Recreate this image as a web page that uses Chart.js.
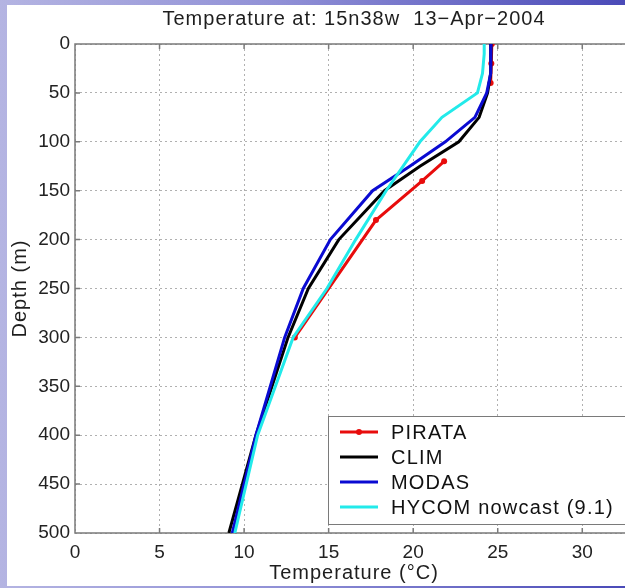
<!DOCTYPE html>
<html>
<head>
<meta charset="utf-8">
<script src="https://cdn.jsdelivr.net/npm/chart.js@4"></script>
<style>
  html, body { margin: 0; padding: 0; width: 625px; height: 588px; overflow: hidden; }
  body { background: linear-gradient(to right, #b4b4e2 0%, #9090d6 45%, #4a4ab8 100%); position: relative; }
  #panel { position: absolute; left: 7px; top: 5px; width: 640px; height: 581px; background: #fff; }
  #myChart { position: absolute; left: 0; top: 0; }
</style>
</head>
<body>
<div id="panel"></div>
<canvas id="myChart" width="640" height="588"></canvas>
<script>
// depth profiles, temperature in degC vs depth in m
let pirataDepth = [0, 20, 40, 60, 120, 140, 180, 300];
let pirataTemp = [24.65, 24.62, 24.58, null, 21.83, 20.53, 17.8, 13.0];

let climDepth = [0, 10, 20, 30, 50, 75, 100, 125, 150, 200, 250, 300, 400, 500];
let climTemp = [24.6, 24.6, 24.6, 24.55, 24.4, 23.9, 22.7, 20.4, 18.3, 15.6, 13.8, 12.6, 10.7, 9.1];
let modasTemp = [24.6, 24.6, 24.6, 24.55, 24.35, 23.65, 21.9, 19.8, 17.6, 15.1, 13.5, 12.4, 10.7, 9.3];

let hycomDepth = [0, 10, 30, 50, 75, 100, 150, 200, 250, 300, 400, 500];
let hycomTemp = [24.2, 24.2, 24.1, 23.8, 21.7, 20.4, 18.4, 16.6, 14.9, 12.9, 10.8, 9.45];

let xTicks = [0, 5, 10, 15, 20, 25, 30];
let yTicks = [0, 50, 100, 150, 200, 250, 300, 350, 400, 450, 500];

let font = '"Liberation Sans", Arial, sans-serif';

function profile(depths, temps) {
    return depths.map((d, i) => temps[i] == null ? {x: null, y: null} : {x: temps[i], y: d});
}

// frame, inner ticks, titles and legend drawn on top of the chart area
let decor = {
    id: 'decor',
    beforeDatasetsDraw(chart) {
        let ctx = chart.ctx;
        let a = chart.chartArea;
        let xs = chart.scales.x, ys = chart.scales.y;
        ctx.save();
        ctx.strokeStyle = '#7a7a7a';
        ctx.lineWidth = 1.5;
        ctx.beginPath();
        ctx.moveTo(a.right, a.top); ctx.lineTo(a.left, a.top);
        ctx.lineTo(a.left, a.bottom); ctx.lineTo(a.right, a.bottom);
        xTicks.forEach(v => {
            let px = xs.getPixelForValue(v);
            ctx.moveTo(px, a.bottom); ctx.lineTo(px, a.bottom - 5);
            ctx.moveTo(px, a.top); ctx.lineTo(px, a.top + 5);
        });
        yTicks.forEach(v => {
            let py = ys.getPixelForValue(v);
            ctx.moveTo(a.left, py); ctx.lineTo(a.left + 5, py);
        });
        ctx.stroke();
        ctx.restore();
    },
    afterDraw(chart) {
        let ctx = chart.ctx;
        let a = chart.chartArea;
        let cx = (a.left + a.right) / 2;
        ctx.save();
        ctx.fillStyle = '#1e1e1e';
        ctx.textAlign = 'center';
        ctx.textBaseline = 'middle';
        ctx.letterSpacing = '1px';
        ctx.font = '20px ' + font;
        ctx.fillText('Temperature at: 15n38w  13\u2212Apr\u22122004', cx, 19);
        ctx.fillText('Temperature (\u00b0C)', cx, 573);
        ctx.save();
        ctx.translate(20, (a.top + a.bottom) / 2);
        ctx.rotate(-Math.PI / 2);
        ctx.fillText('Depth (m)', 0, 0);
        ctx.restore();

        // legend box
        let bx = 328, by = 416, bh = 108;
        ctx.fillStyle = '#fff';
        ctx.fillRect(bx, by, a.right - bx + 20, bh);
        ctx.strokeStyle = '#7a7a7a';
        ctx.lineWidth = 1;
        ctx.strokeRect(bx + 0.5, by + 0.5, a.right - bx + 20, bh);
        let rows = [432, 457, 482, 507];
        ctx.textAlign = 'left';
        ctx.letterSpacing = '1.2px';
        chart.data.datasets.forEach((ds, i) => {
            let y = rows[i];
            ctx.strokeStyle = ds.borderColor;
            ctx.lineWidth = 3;
            ctx.beginPath();
            ctx.moveTo(340, y); ctx.lineTo(378, y);
            ctx.stroke();
            if (ds.pointRadius > 0) {
                ctx.fillStyle = ds.borderColor;
                ctx.beginPath();
                ctx.arc(359, y, 3, 0, Math.PI * 2);
                ctx.fill();
            }
            ctx.fillStyle = '#111';
            ctx.fillText(ds.label, 391, y + 1);
        });
        ctx.restore();
    }
};

let myChart = document.getElementById('myChart').getContext('2d');

let chart = new Chart(myChart, {
    type: 'scatter',
    data: {
        datasets: [
            {
                label: 'PIRATA',
                data: profile(pirataDepth, pirataTemp),
                showLine: true,
                borderColor: '#e80c0c',
                backgroundColor: '#e80c0c',
                borderWidth: 3,
                pointRadius: 3,
                pointBorderWidth: 0,
                order: 4
            },
            {
                label: 'CLIM',
                data: profile(climDepth, climTemp),
                showLine: true,
                borderColor: '#000000',
                borderWidth: 3,
                pointRadius: 0,
                order: 3
            },
            {
                label: 'MODAS',
                data: profile(climDepth, modasTemp),
                showLine: true,
                borderColor: '#0a0ad2',
                borderWidth: 3,
                pointRadius: 0,
                order: 2
            },
            {
                label: 'HYCOM nowcast (9.1)',
                data: profile(hycomDepth, hycomTemp),
                showLine: true,
                borderColor: '#22eaea',
                borderWidth: 3,
                pointRadius: 0,
                order: 1
            }
        ]
    },
    options: {
        responsive: false,
        animation: false,
        layout: {
            padding: {left: 0, top: 44, right: 7, bottom: 0}
        },
        plugins: {
            legend: {display: false},
            title: {display: false},
            tooltip: {enabled: false}
        },
        scales: {
            x: {
                type: 'linear',
                min: 0,
                max: 33,
                afterFit: s => { s.height = 55; },
                afterBuildTicks: s => { s.ticks = xTicks.map(v => ({value: v})); },
                ticks: {
                    color: '#222',
                    font: {family: font, size: 19},
                    padding: 8,
                    maxRotation: 0
                },
                grid: {color: '#b0b0b0', lineWidth: 1, drawTicks: false},
                border: {display: false, dash: [2, 3]}
            },
            y: {
                type: 'linear',
                reverse: true,
                min: 0,
                max: 500,
                afterFit: s => { s.width = 75; },
                afterBuildTicks: s => { s.ticks = yTicks.map(v => ({value: v})); },
                ticks: {
                    color: '#222',
                    font: {family: font, size: 19},
                    padding: 5
                },
                grid: {color: '#b0b0b0', lineWidth: 1, drawTicks: false},
                border: {display: false, dash: [2, 3]}
            }
        }
    },
    plugins: [decor]
});
</script>
</body>
</html>
